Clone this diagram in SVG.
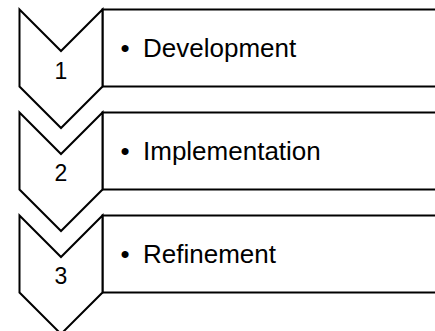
<svg xmlns="http://www.w3.org/2000/svg" width="435" height="331" viewBox="0 0 435 331">
<style>
.chev{fill:#fff;stroke:#000;stroke-width:2;stroke-linejoin:miter}
.box{fill:#fff;stroke:#000;stroke-width:2}
.num{font-family:"Liberation Sans",Arial,sans-serif;fill:#000;text-anchor:middle}
.lbl{font-family:"Liberation Sans",Arial,sans-serif;font-size:26px;fill:#000}
</style>
<rect width="435" height="331" fill="#fff"/>
<g id="step1">
<rect class="box" x="102.5" y="9.5" width="340" height="77"/>
<path class="chev" d="M19.5,9.5 L61,51 L102.5,9.5 L102.5,86.5 L61,128 L19.5,86.5 Z"/>
<text class="num" x="61" y="78.5" font-size="23">1</text>
<text class="lbl" x="120.5" y="57">•<tspan x="143">Development</tspan></text>
</g>
<g id="step2">
<rect class="box" x="102.5" y="112.5" width="340" height="77"/>
<path class="chev" d="M19.5,112.5 L61,154 L102.5,112.5 L102.5,189.5 L61,231 L19.5,189.5 Z"/>
<text class="num" x="61" y="181" font-size="23">2</text>
<text class="lbl" x="120.5" y="160">•<tspan x="143">Implementation</tspan></text>
</g>
<g id="step3">
<rect class="box" x="102.5" y="215.5" width="340" height="77"/>
<path class="chev" d="M19.5,215.5 L61,257 L102.5,215.5 L102.5,292.5 L61,334 L19.5,292.5 Z"/>
<text class="num" x="61" y="283.5" font-size="23">3</text>
<text class="lbl" x="120.5" y="263">•<tspan x="143">Refinement</tspan></text>
</g>
<g id="connectors"></g>
</svg>
